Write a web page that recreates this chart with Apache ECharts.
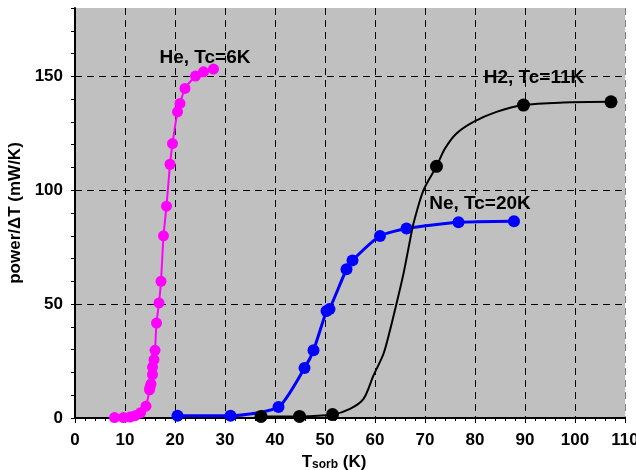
<!DOCTYPE html>
<html>
<head>
<meta charset="utf-8">
<script src="https://cdn.jsdelivr.net/npm/echarts@6/dist/echarts.min.js"></script>
<style>html,body{margin:0;padding:0;background:#fff}#c{width:636px;height:470px}</style>
</head>
<body>
<div id="c"></div>
<script>
// He, Tc=6K
const heX = [7.9, 9.7, 11.0, 12.0, 13.1, 14.2, 14.9, 15.0, 15.2, 15.5, 15.5, 15.8, 16.0, 16.3, 16.8, 17.2, 17.7, 18.3, 19.0, 19.5, 20.5, 21.0, 22.0, 24.1, 25.7, 27.7];
const heY = [0.2, 0.2, 0.4, 1.0, 2.3, 5.2, 12.4, 13.5, 15.0, 19.1, 22.3, 25.6, 29.7, 41.7, 50.5, 60.0, 80.0, 93.0, 111.4, 120.5, 134.4, 138.1, 144.7, 150.1, 152.0, 153.2];
// Ne, Tc=20K
const neX = [20.5, 31.1, 40.7, 45.9, 47.7, 50.3, 50.9, 54.3, 55.5, 61.0, 66.3, 76.7, 87.8];
const neY = [1.0, 1.0, 4.8, 21.9, 29.7, 47.0, 47.8, 65.3, 69.2, 79.9, 83.2, 85.9, 86.4];
// H2, Tc=11K (continuous trace)
const h2LineX = [37.2, 44.9, 51.5, 55.0, 57.7, 59.7, 61.7, 63.0, 64.3, 65.7, 67.0, 67.7, 69.7, 72.3, 74.0, 76.3, 79.7, 84.3, 89.7, 97.7, 107.2];
const h2LineY = [0.7, 0.7, 1.5, 4.0, 8.4, 18.7, 28.2, 38.5, 50.2, 63.4, 78.0, 85.4, 100.0, 110.5, 118.3, 124.9, 130.0, 134.4, 137.4, 138.5, 138.8];
// H2 markers
const h2MarkX = [37.2, 44.9, 51.5, 72.3, 89.7, 107.2];
const h2MarkY = [0.7, 0.7, 1.5, 110.5, 137.4, 138.8];
// axes
const xTicks = [0, 10, 20, 30, 40, 50, 60, 70, 80, 90, 100, 110];
const yTicks = [0, 50, 100, 150];
const yMax = 180, yStep = 10;

const zip = (a, b) => a.map((v, i) => [v, b[i]]);
const yAll = [];
for (let v = 0; v <= yMax; v += yStep) yAll.push(v);
const ySplitColors = yAll.map(v => (yTicks.indexOf(v) >= 0 && v > 0) ? '#000' : 'rgba(0,0,0,0)');
const xSplitColors = xTicks.map((v, i) => i === xTicks.length - 1 ? '#808080' : '#000');

const F = '"Liberation Sans", Arial, sans-serif';
const chart = echarts.init(document.getElementById('c'), null, {renderer: 'canvas'});
chart.setOption({
  animation: false,
  grid: {left: 75, right: 11, top: 8, bottom: 52, show: true, backgroundColor: '#c0c0c0', borderWidth: 0,
         containLabel: false, outerBoundsMode: 'none'},
  xAxis: {
    type: 'value', min: xTicks[0], max: xTicks[xTicks.length - 1], interval: 10,
    axisLine: {lineStyle: {color: '#000', width: 2}},
    axisTick: {show: true, length: 5, lineStyle: {color: '#000', width: 1}},
    minorTick: {show: true, splitNumber: 5, length: 3, lineStyle: {color: '#000', width: 1}},
    splitLine: {show: true, lineStyle: {color: xSplitColors, type: [7, 5], width: 1}},
    axisLabel: {color: '#000', fontFamily: F, fontWeight: 'bold', fontSize: 17, margin: 14, hideOverlap: false},
    name: '{t|T}{s|sorb}{t| (K)}', nameLocation: 'middle', nameGap: 32,
    nameTextStyle: {padding: [0, 32, 0, 0], rich: {
      t: {fontFamily: F, fontWeight: 'bold', fontSize: 17, color: '#000', lineHeight: 20, verticalAlign: 'bottom'},
      s: {fontFamily: F, fontWeight: 'bold', fontSize: 12, color: '#000', lineHeight: 10, verticalAlign: 'bottom'}
    }}
  },
  yAxis: {
    type: 'value', min: 0, max: yMax, interval: yStep,
    axisLine: {lineStyle: {color: '#000', width: 2}},
    axisTick: {show: true, length: 4, lineStyle: {color: '#000', width: 1}},
    splitLine: {show: true, lineStyle: {color: ySplitColors, type: [7, 5], width: 1}},
    axisLabel: {color: '#000', fontFamily: F, fontWeight: 'bold', fontSize: 17, margin: 12,
      formatter: v => (yTicks.indexOf(v) >= 0 ? String(v) : '')},
    name: 'power/ΔT (mW/K)', nameLocation: 'middle', nameGap: 42,
    nameTextStyle: {fontFamily: F, fontWeight: 'bold', fontSize: 17, color: '#000'}
  },
  series: [
    {type: 'line', data: zip(heX, heY), smooth: 0.2, symbol: 'circle', symbolSize: 11,
     lineStyle: {color: '#ff00ff', width: 2}, itemStyle: {color: '#ff00ff', opacity: 1}, z: 3},
    {type: 'line', data: zip(neX, neY), smooth: 0.2, symbol: 'circle', symbolSize: 12,
     lineStyle: {color: '#0000ff', width: 3}, itemStyle: {color: '#0000ff', opacity: 1}, z: 3},
    {type: 'line', data: zip(h2LineX, h2LineY), smooth: 0.3, showSymbol: false, symbol: 'none',
     lineStyle: {color: '#000', width: 2}, z: 4},
    {type: 'scatter', data: zip(h2MarkX, h2MarkY), symbol: 'circle', symbolSize: 13,
     itemStyle: {color: '#000', opacity: 1}, z: 5}
  ],
  graphic: [
    {type: 'text', x: 205, y: 58, z: 10, style: {text: 'He, Tc=6K', font: 'bold 19px ' + F, fill: '#000', align: 'center', verticalAlign: 'middle'}},
    {type: 'text', x: 534, y: 78, z: 10, style: {text: 'H2, Tc=11K', font: 'bold 19px ' + F, fill: '#000', align: 'center', verticalAlign: 'middle'}},
    {type: 'text', x: 480, y: 204, z: 10, style: {text: 'Ne, Tc=20K', font: 'bold 19px ' + F, fill: '#000', align: 'center', verticalAlign: 'middle'}}
  ]
});
</script>
</body>
</html>
